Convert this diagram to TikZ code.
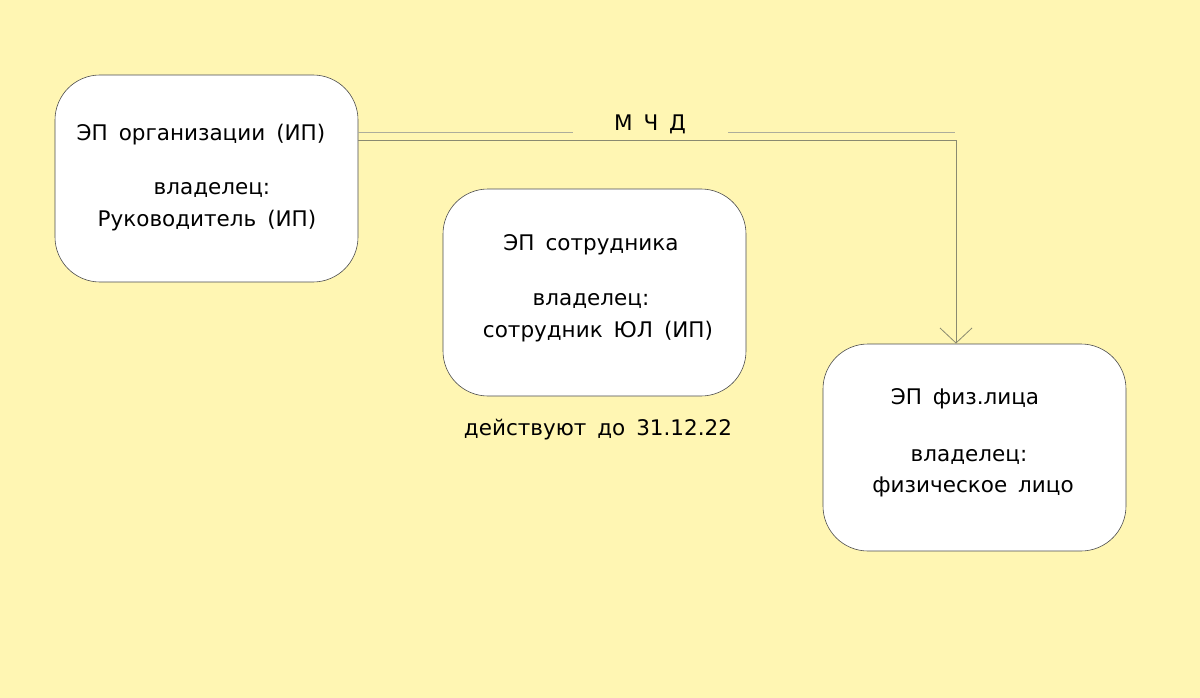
\documentclass[tikz,border=0pt]{standalone}
\usepackage{fontspec}
\setmainfont[WordSpace=1.6]{DejaVu Sans}
\definecolor{bg}{HTML}{FFF6B3}
\definecolor{ln}{HTML}{8A8A70}
\begin{document}
\begin{tikzpicture}[x=1pt,y=-1pt,
 box/.style={draw=black!70,line width=0.6pt,fill=white,rounded corners=45pt},
 tx/.style={font=\fontsize{21.5}{26}\selectfont,inner sep=0pt}]
\fill[bg] (0,0) rectangle (1200,698);
\useasboundingbox (0,0) rectangle (1200,698);
\draw[box] (55,75) rectangle (358,282);
\draw[box] (443,189) rectangle (746,396);
\draw[box] (823,344) rectangle (1126,551);
\node[tx] (a1) at (201,135) {ЭП организации (ИП)};
\node[tx] (a2) at (212,190) {владелец:};
\node[tx] (a3) at (207,221) {Руководитель (ИП)};
\node[tx] (b1) at (591,245) {ЭП сотрудника};
\node[tx] (b2) at (591,301) {владелец:};
\node[tx] (b3) at (598,332) {сотрудник ЮЛ (ИП)};
\node[tx] (c1) at (965,399) {ЭП физ.лица};
\node[tx] (c2) at (969,457) {владелец:};
\node[tx] (c3) at (973,487) {физическое лицо};
\node[tx] (d) at (598,430) {действуют до 31.12.22};
\node[tx] (m) at (650,124) {М Ч Д};
\coordinate (s) at (358,140);
\coordinate (k) at (956,140);
\coordinate (e) at (956,343);
\draw[ln,line width=0.8pt] (s) -- (k) -- (e);
\draw[ln,line width=0.8pt] (940,328) -- (e) -- (972,328);
\draw[ln!70,line width=0.7pt] (358,132) -- (573,132) (728,132) -- (955,132);
\end{tikzpicture}
\end{document}
